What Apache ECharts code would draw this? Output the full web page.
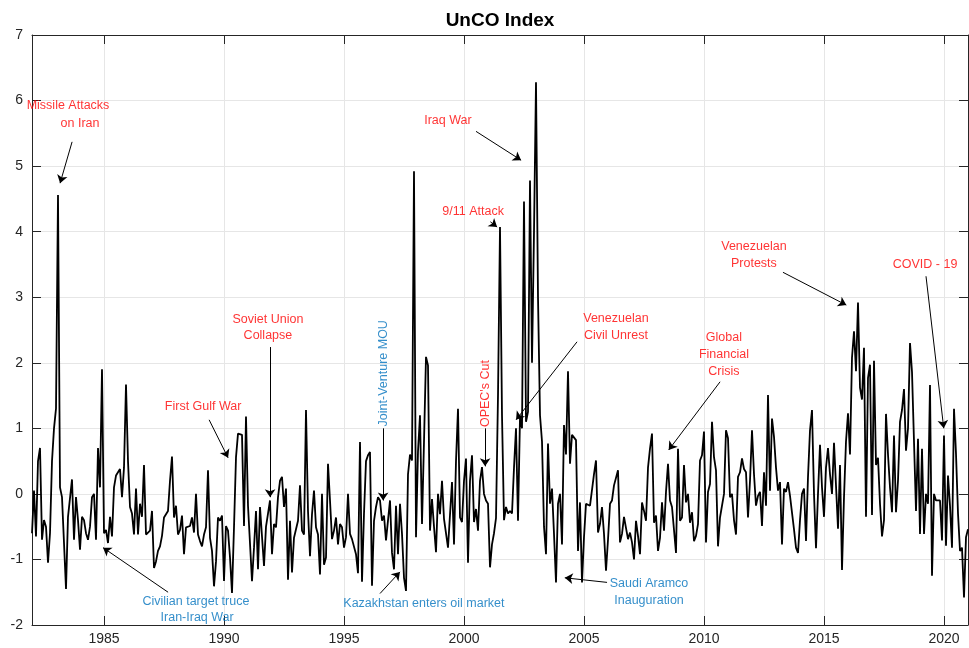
<!DOCTYPE html>
<html>
<head>
<meta charset="utf-8">
<script src="https://cdn.jsdelivr.net/npm/echarts@6/dist/echarts.min.js"></script>
<style>
  html, body { margin: 0; padding: 0; background: #ffffff; }
  #chart { width: 969px; height: 648px; }
</style>
</head>
<body>
<div id="chart"></div>
<script>
// Monthly UnCO index, starting January 1982
const startYear = 1982;
const uncoIndex = [
  -0.6, 0.05, -0.65, 0.5, 0.7, -0.7, -0.4, -0.5, -1.05, -0.6, 0.5, 1.0,
  1.3, 4.56, 0.1, -0.05, -0.75, -1.45, -0.35, -0.35, 0.22, -0.7, -0.05, -0.4,
  -0.85, -0.35, -0.4, -0.6, -0.7, -0.5, -0.05, 0.0, -0.7, 0.7, 0.1, 1.9,
  -0.6, -0.55, -0.75, -0.35, -0.65, 0.1, 0.28, 0.25, 0.38, -0.05, 0.4, 1.67,
  0.5, -0.2, -0.3, -0.62, 0.08, -0.62, -0.15, -0.35, 0.44, -0.62, -0.64, -0.56,
  -0.26, -1.13, -1.03, -0.87, -0.8, -0.64, -0.36, -0.33, -0.26, 0.2, 0.57, -0.36,
  -0.18, -0.62, -0.55, -0.33, -0.92, -0.51, -0.54, -0.49, -0.36, -0.59, 0.0, -0.62,
  -0.72, -0.8, -0.62, -0.51, 0.36, -0.67, -0.87, -1.41, -1.03, -0.36, -0.41, -0.33,
  -1.33, -0.49, -0.56, -0.97, -1.51, -0.51, 0.56, 0.92, 0.95, 0.9, -0.49, 1.18,
  -0.18, -0.2, -1.33, -0.82, -0.26, -1.15, -0.2, -0.18, -1.1, -0.5, -0.3, -0.1,
  -0.92, -0.46, -0.51, -0.05, 0.2, 0.26, -0.2, 0.08, -1.31, -0.41, -1.2, -0.67,
  -0.67, -0.41, 0.13, -0.56, -0.62, 1.28, -0.26, -0.95, -0.31, 0.05, -0.51, -0.62,
  -1.23, 0.0, -1.08, -0.97, 0.46, -0.1, -0.69, -0.56, -0.36, -0.77, -0.46, -0.51,
  -0.82, -0.66, 0.0, -0.61, -0.69, -0.71, -0.92, -1.21, 0.79, -1.34, -0.3, 0.5,
  0.59, 0.64, -1.4, -0.41, -0.2, -0.05, -0.1, -0.41, -0.33, -0.71, -0.74, -0.1,
  -0.9, -1.15, -0.18, -0.92, -0.15, -0.61, -1.28, -1.48, 0.3, 0.6, 0.51, 4.92,
  -0.66, 0.65, 1.2, -0.46, 0.8, 2.09, 1.96, -0.56, -0.08, -0.5, -0.89, 0.0,
  -0.31, 0.2, -0.38, -0.41, -0.82, -0.84, 0.18, -0.77, 0.5, 1.3, -0.36, -0.43,
  0.2, 0.54, -1.05, 0.2, 0.59, -0.43, -0.23, -0.56, 0.2, 0.41, 0.0, -0.1,
  -0.15, -1.12, -0.77, -0.6, -0.37, 1.5, 4.07, 1.2, -0.4, -0.2, -0.3, -0.26,
  -0.3, 0.4, 1.0, -0.41, 1.17, 1.0, 4.46, 1.1, 1.25, 4.78, 2.0, 4.0,
  6.28, 3.0, 1.2, 0.8, -0.5, -0.92, 0.77, -0.15, 0.08, -0.61, -1.35, -0.15,
  0.0, -0.77, 1.05, 0.6, 1.87, 0.46, 0.9, 0.92, 0.82, -0.87, -0.13, -1.35,
  -0.66, -0.15, -0.18, -0.18, -0.2, 0.3, 0.51, -0.59, -0.46, -0.2, -0.61, -1.17,
  -0.7, -0.15, -0.1, 0.13, 0.13, 0.36, -0.74, -0.61, -0.35, -0.33, -0.69, -0.59,
  -0.74, -1.0, -0.41, -0.64, -0.92, -0.13, -0.26, -0.41, 0.4, 0.69, 0.92, -0.44,
  -0.33, -0.87, -0.67, -0.13, -0.56, 0.03, 0.46, -0.1, -0.2, -0.23, -0.9, 0.69,
  -0.41, -0.36, 0.44, -0.13, 0.0, -0.44, -0.28, -0.72, -0.64, -0.46, 0.51, 0.59,
  0.95, -0.74, 0.03, 0.15, 1.1, 0.56, 0.36, -0.8, -0.36, -0.33, 0.0, 0.97,
  0.85, -0.05, 0.0, -0.4, -0.62, 0.26, 0.33, 0.54, 0.38, 0.33, -0.36, 0.2,
  0.97, 0.3, -0.18, -0.03, 0.03, -0.49, 0.33, -0.18, 1.51, 0.05, 1.15, 0.87,
  0.4, 0.05, 0.18, -0.77, 0.08, 0.03, 0.18, -0.03, -0.05, -0.54, -0.82, -0.9,
  -0.4, 0.0, 0.08, -0.72, 0.26, 0.97, 1.28, 0.0, -0.83, 0.0, 0.75, 0.1,
  -0.35, 0.4, 0.7, 0.3, 0.0, 0.78, 0.75, -0.53, 0.44, -1.16, -0.05, 0.8,
  1.23, 0.6, 2.08, 2.48, 1.87, 2.92, 1.62, 1.44, 2.23, -0.35, 1.77, 1.97,
  -0.32, 2.03, 0.44, 0.55, -0.15, -0.65, -0.4, 1.22, 0.6, 0.1, -0.28, 0.89,
  -0.28, 0.2, 1.1, 1.28, 1.6, 0.66, 1.0, 2.3, 1.86, 1.89, -0.26, 0.84,
  -0.61, 0.69, -0.61, 0.0, -0.15, 1.66, -1.25, 0.0, -0.1, -0.08, -0.1, -0.71,
  0.89, -0.79, 0.28, -0.18, -0.82, 1.3, 0.61, -0.3, -0.87, -0.82, -1.58, -0.66,
  -0.54
];

const yearTicks = [1985, 1990, 1995, 2000, 2005, 2010, 2015, 2020];
const RED = '#ff0000';
const BLUE = '#0072bd';

// Event captions: one entry per text line, placed in data coordinates
const eventLabels = [
  { text: 'Missile Attacks', x: 1983.50, y: 5.92, color: RED },
  { text: 'on Iran', x: 1984.00, y: 5.65, color: RED },
  { text: 'Civilian target truce', x: 1988.83, y: -1.64, color: BLUE },
  { text: 'Iran-Iraq War', x: 1988.88, y: -1.89, color: BLUE },
  { text: 'First Gulf War', x: 1989.13, y: 1.33, color: RED },
  { text: 'Soviet Union', x: 1991.83, y: 2.66, color: RED },
  { text: 'Collapse', x: 1991.83, y: 2.41, color: RED },
  { text: 'Joint-Venture MOU', x: 1996.63, y: 1.84, color: BLUE, rotate: 90 },
  { text: 'Kazakhstan enters oil market', x: 1998.33, y: -1.68, color: BLUE },
  { text: "OPEC's Cut", x: 2000.90, y: 1.53, color: RED, rotate: 90 },
  { text: 'Iraq War', x: 1999.33, y: 5.70, color: RED },
  { text: '9/11 Attack', x: 2000.38, y: 4.30, color: RED },
  { text: 'Venezuelan', x: 2006.33, y: 2.68, color: RED },
  { text: 'Civil Unrest', x: 2006.33, y: 2.42, color: RED },
  { text: 'Saudi Aramco', x: 2007.71, y: -1.37, color: BLUE },
  { text: 'Inauguration', x: 2007.71, y: -1.63, color: BLUE },
  { text: 'Global', x: 2010.83, y: 2.38, color: RED },
  { text: 'Financial', x: 2010.83, y: 2.13, color: RED },
  { text: 'Crisis', x: 2010.83, y: 1.87, color: RED },
  { text: 'Venezuelan', x: 2012.08, y: 3.77, color: RED },
  { text: 'Protests', x: 2012.08, y: 3.51, color: RED },
  { text: 'COVID - 19', x: 2019.21, y: 3.50, color: RED }
];

// Arrows from each caption to the event: [fromX, fromY, toX, toY]
const eventArrows = [
  [1983.67, 5.37, 1983.17, 4.74],
  [1987.67, -1.50, 1984.96, -0.82],
  [1989.38, 1.13, 1990.17, 0.55],
  [1991.92, 2.24, 1991.92, -0.05],
  [1996.63, 1.00, 1996.63, -0.10],
  [1996.50, -1.52, 1997.33, -1.19],
  [2000.88, 1.00, 2000.88, 0.42],
  [2000.50, 5.53, 2002.38, 5.09],
  [2001.10, 4.15, 2001.38, 4.07],
  [2004.71, 2.32, 2002.17, 1.13],
  [2005.96, -1.35, 2004.20, -1.28],
  [2010.67, 1.71, 2008.53, 0.67],
  [2013.29, 3.38, 2015.93, 2.88],
  [2019.25, 3.32, 2019.99, 1.00]
];

const lineData = uncoIndex.map((v, i) => [startYear + i / 12, v]);
const FONT = '"Liberation Sans", Arial, Helvetica, sans-serif';
const AXIS = '#262626';

const chart = echarts.init(document.getElementById('chart'), null, { renderer: 'canvas' });

const xCommon = {
  type: 'value', min: 1982, max: 2021,
  axisLine: { show: true, onZero: false, lineStyle: { color: AXIS, width: 1 } },
  axisTick: { show: true, inside: true, length: 9, customValues: yearTicks, lineStyle: { color: AXIS } }
};
const yCommon = {
  type: 'value', min: -2, max: 7, interval: 1,
  axisLine: { show: true, onZero: false, lineStyle: { color: AXIS, width: 1 } },
  axisTick: { show: true, inside: true, length: 9, lineStyle: { color: AXIS } }
};

chart.setOption({
  animation: false,
  backgroundColor: '#ffffff',
  grid: { left: 32, right: 1, top: 35, bottom: 23, containLabel: false },
  graphic: [{
    type: 'text', x: 500, y: 21,
    style: { text: 'UnCO Index', font: 'bold 19px ' + FONT, fill: '#000000', align: 'center', verticalAlign: 'middle' }
  }],
  xAxis: [
    Object.assign({}, xCommon, {
      position: 'bottom',
      axisLabel: {
        show: true, customValues: yearTicks, fontSize: 14, fontFamily: FONT, color: AXIS, margin: 7,
        formatter: v => String(v)
      },
      splitLine: { show: true, lineStyle: { color: '#e6e6e6', width: 1 } }
    }),
    Object.assign({}, xCommon, {
      position: 'top',
      axisLabel: { show: false },
      splitLine: { show: false }
    })
  ],
  yAxis: [
    Object.assign({}, yCommon, {
      position: 'left',
      axisLabel: { show: true, fontSize: 14, fontFamily: FONT, color: AXIS, margin: 9 },
      splitLine: { show: true, lineStyle: { color: '#e6e6e6', width: 1 } }
    }),
    Object.assign({}, yCommon, {
      position: 'right',
      axisLabel: { show: false },
      splitLine: { show: false }
    })
  ],
  series: [
    {
      name: 'UnCO Index',
      type: 'line',
      data: lineData,
      showSymbol: false,
      lineStyle: { color: '#000000', width: 1.8 },
      z: 3,
      markLine: {
        silent: true,
        symbol: ['none', 'arrow'],
        symbolSize: 8,
        label: { show: false },
        lineStyle: { color: '#000000', width: 1, type: 'solid' },
        data: eventArrows.map(a => [{ coord: [a[0], a[1]] }, { coord: [a[2], a[3]] }])
      }
    },
    {
      name: 'events',
      type: 'scatter',
      symbolSize: 0,
      silent: true,
      z: 4,
      data: eventLabels.map(e => ({
        value: [e.x, e.y],
        label: {
          show: true,
          position: 'inside',
          formatter: e.text,
          color: e.color,
          rotate: e.rotate || 0,
          fontSize: 12.5,
          fontFamily: FONT,
          align: 'center',
          verticalAlign: 'middle'
        }
      }))
    }
  ]
});
</script>
</body>
</html>
